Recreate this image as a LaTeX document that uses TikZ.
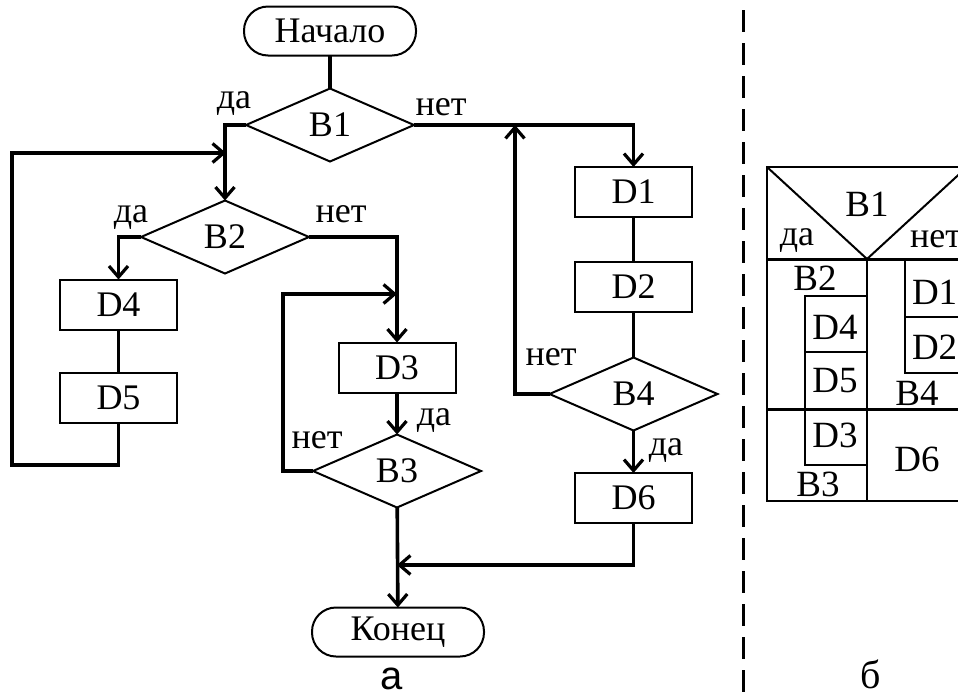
\documentclass[tikz,border=0pt]{standalone}
\usepackage{fontspec}
\setmainfont{Liberation Serif}
\newfontfamily\capsans{Liberation Sans}
\usetikzlibrary{shapes.geometric,arrows.meta}
\begin{document}
\begin{tikzpicture}[x=1pt,y=-1pt,
  every node/.style={font=\fontsize{36}{40}\selectfont, inner sep=0pt, outer sep=0pt},
  term/.style={draw, line width=2pt, rounded corners=24pt, minimum width=172pt, minimum height=49pt},
  proc/.style={draw, line width=2pt, minimum width=117pt, minimum height=50pt},
  dec/.style={draw, diamond, line width=2pt, minimum width=168pt, minimum height=73pt},
  flow/.style={line width=3.6pt, line join=miter},
  arr/.style={-{Straight Barb[length=11pt,width=19pt,line width=3.2pt]}},
  lbl/.style={anchor=base},
  ns/.style={line width=2pt},
  nsthick/.style={line width=3pt},
  nstext/.style={font=\fontsize{37}{40}\selectfont}
]
\useasboundingbox (0,0) rectangle (958,697);
\clip (0,0) rectangle (958,697);

% ---------- flowchart (a) ----------
\node[term] (start) at (330,31) {Начало};
\node[dec]  (b1) at (330,125) {B1};
\node[dec]  (b2) at (225,237) {B2};
\node[proc] (d4) at (118.5,304.5) {D4};
\node[proc] (d5) at (118.5,398) {D5};
\node[proc] (d3) at (397,367.5) {D3};
\node[dec]  (b3) at (397,471) {B3};
\node[term] (fin) at (398,632) {Конец};
\node[proc] (d1) at (633.5,192) {D1};
\node[proc] (d2) at (633.5,287) {D2};
\node[dec]  (b4) at (633.5,394) {B4};
\node[proc] (d6) at (633.5,498) {D6};

% branch labels
\node[lbl] (yb1) at (234,108) {да};
\node[lbl] (nb1) at (441,115) {нет};
\node[lbl] (yb2) at (131,222) {да};
\node[lbl] (nb2) at (341,222) {нет};
\node[lbl] (yb3) at (434,425) {да};
\node[lbl] (nb3) at (317,448) {нет};
\node[lbl] (nb4) at (551,365) {нет};
\node[lbl] (yb4) at (666,455) {да};

% loop corners
\coordinate (loopA) at (12,465);
\coordinate (loopB) at (12,153);
\coordinate (loopC) at (226,153);
\coordinate (loopD) at (283,294);
\coordinate (loopE) at (397,294);
\coordinate (loopF) at (515,125);
\coordinate (merge) at (397,565);

% connectors
\draw[flow] (start) -- (b1);
\draw[flow,arr] (b1.west) -| (b2.north);
\draw[flow,arr] (b2.west) -| (d4.north);
\draw[flow] (d4) -- (d5);
\draw[flow,arr] (d5.south) |- (loopA) -- (loopB) -- (loopC);
\draw[flow,arr] (b2.east) -| (d3.north);
\draw[flow,arr] (d3) -- (b3);
\draw[flow,arr] (b3.west) -| (loopD) -- (loopE);
\draw[flow,arr] (b3) -- (fin);
\draw[flow,arr] (b1.east) -| (d1.north);
\draw[flow] (d1) -- (d2);
\draw[flow] (d2) -- (b4);
\draw[flow,arr] (b4.west) -| (loopF);
\draw[flow,arr] (b4) -- (d6);
\draw[flow,arr] (d6.south) |- (merge);

\node[lbl, font=\capsans\fontsize{40}{44}\selectfont] (capa) at (392,689) {а};

% ---------- separator ----------
\draw[line width=3pt, dash pattern=on 22pt off 11pt] (743,10) -- (743,697);

% ---------- structogram (б) ----------
\draw[ns] (975,167) -- (767,167) -- (767,501) -- (975,501);
\draw[ns] (767,167) -- (867,259) -- (967,167);
\draw[nsthick] (767,259) -- (975,259);
\draw[nsthick] (767,409) -- (975,409);
\draw[ns] (867,259) -- (867,501);
\draw[ns] (805,409) -- (805,296) -- (867,296);
\draw[ns] (805,352) -- (867,352);
\draw[ns] (805,409) -- (805,465) -- (867,465);
\draw[ns] (905,259) -- (905,373) -- (975,373);
\draw[ns] (905,317) -- (975,317);

\node[nstext] (sb1) at (867,204) {B1};
\node[lbl] (sy) at (797,245) {да};
\node[lbl, anchor=base west] (sn) at (910,247) {нет};
\node[nstext] (sb2) at (815,278) {B2};
\node[nstext] (sd4) at (835,327) {D4};
\node[nstext] (sd5) at (835,381) {D5};
\node[nstext, anchor=west] (sd1) at (912,292) {D1};
\node[nstext, anchor=west] (sd2) at (912,347) {D2};
\node[nstext] (sb4) at (917,393) {B4};
\node[nstext] (sd3) at (835,435) {D3};
\node[nstext] (sb3) at (818,484) {B3};
\node[nstext] (sd6) at (917,459) {D6};

\node[lbl, font=\fontsize{40}{44}\selectfont] (capb) at (871,688) {б};
\end{tikzpicture}
\end{document}
